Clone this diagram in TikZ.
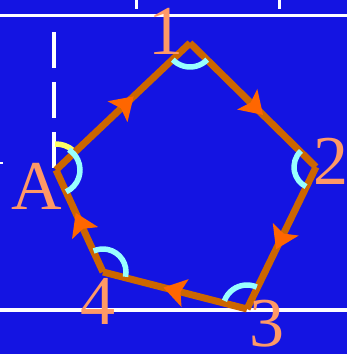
\documentclass[tikz,border=0pt]{standalone}
\usepackage{fontspec}
\setmainfont{Liberation Serif}
\usetikzlibrary{arrows.meta,decorations.markings}
\definecolor{bg}{RGB}{20,20,226}
\definecolor{edgebrown}{RGB}{204,102,0}
\definecolor{arroworange}{RGB}{255,102,0}
\definecolor{labelsalmon}{RGB}{255,153,102}
\definecolor{arccyan}{RGB}{153,255,255}
\definecolor{arcyellow}{RGB}{255,255,102}
\tikzset{
  white line/.style={draw=white,line width=3.5pt},
  edgeline/.style={draw=edgebrown,line width=7pt,
    postaction={decorate,decoration={markings,
      mark=at position 0.58 with {\arrow{Stealth[length=22pt,width=28pt,inset=4.5pt,color=arroworange]}}}}},
  anglearc/.style={draw=arccyan,line width=5.5pt},
  lbl/.style={text=labelsalmon,font=\fontsize{70}{70}\selectfont,anchor=base,inner sep=0pt},
}
\begin{document}
\begin{tikzpicture}[x=1pt,y=1pt]
\fill[bg] (0,0) rectangle (347,354);
\useasboundingbox (0,0) rectangle (347,354);
% white court lines
\draw[white line] (0,338.5) -- (347,338.5);
\draw[white line] (0,44) -- (347,44);
\draw[draw=white,line width=3pt] (136,354) -- (136,345);
\draw[draw=white,line width=3pt] (279,354) -- (279,345);
\draw[draw=white,line width=2pt] (0,191) -- (3,191);
% vertices
\coordinate (v1) at (190,311);
\coordinate (v2) at (316,187);
\coordinate (v3) at (247,45);
\coordinate (v4) at (103,82);
\coordinate (vA) at (56,184);
\coordinate (top) at (54,324);
% dashed vertical line
\draw[draw=white,line width=4pt,dash pattern=on 36pt off 14pt] (54,186) -- (top);
% yellow arc at A
\draw[draw=arcyellow,line width=5.5pt] ([shift={(48:26)}]vA) arc[start angle=48,end angle=92,radius=26];
% edges
\draw[edgeline] (vA) -- (v1);
\draw[edgeline] (v1) -- (v2);
\draw[edgeline] (v2) -- (v3);
\draw[edgeline] (v3) -- (v4);
\draw[edgeline] (v4) -- (vA);
% angle arcs
\draw[anglearc] ([shift={(224:24)}]v1) arc[start angle=224,end angle=316,radius=24];
\draw[anglearc] ([shift={(133:22)}]v2) arc[start angle=133,end angle=243,radius=22];
\draw[anglearc] ([shift={(66:24)}]v3) arc[start angle=66,end angle=160,radius=24];
\draw[anglearc] ([shift={(-12:23)}]v4) arc[start angle=-12,end angle=114,radius=23];
\draw[anglearc] ([shift={(-65:24)}]vA) arc[start angle=-65,end angle=58,radius=24];
% labels
\node[lbl] (l1) at (166,299) {1};
\node[lbl] (l2) at (331,169) {2};
\node[lbl] (l3) at (267,7) {3};
\node[lbl] (l4) at (98,30) {4};
\node[lbl] (lA) at (37,144) {A};
\end{tikzpicture}
\end{document}
